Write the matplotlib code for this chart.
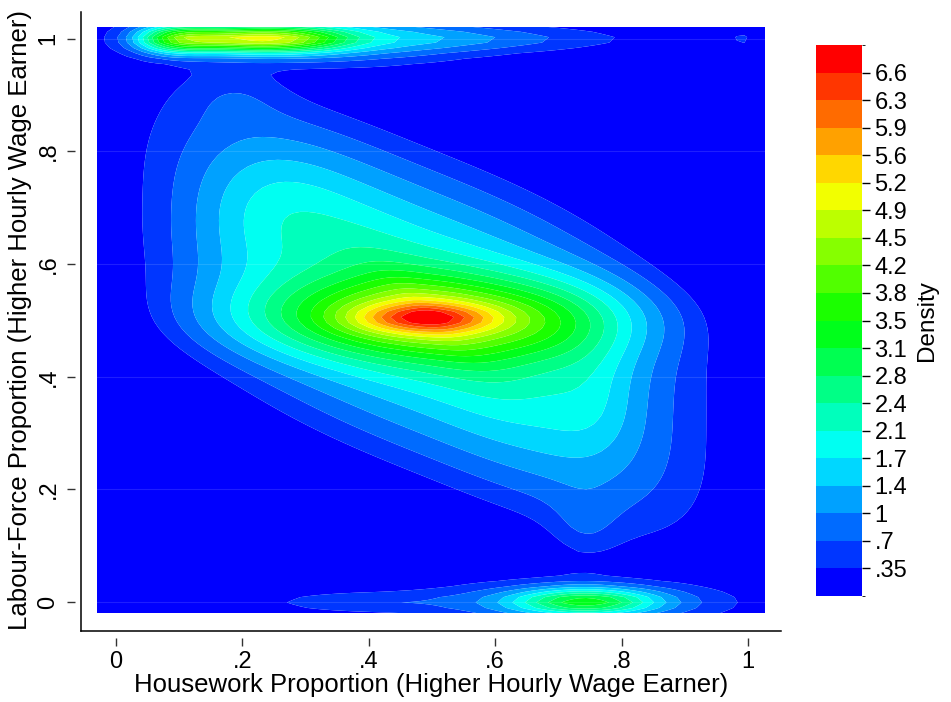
import numpy as np
import matplotlib
matplotlib.use("Agg")
import matplotlib.pyplot as plt
from matplotlib.colors import ListedColormap, BoundaryNorm, hsv_to_rgb
from matplotlib.lines import Line2D

plt.rcParams['font.family'] = ['Liberation Sans', 'DejaVu Sans']

# --- density surface, described by bumps ---
# cone-shaped body of the main cloud (centre, half-widths, shear, peak)
cone_x = [0.49]
cone_y = [0.515]
cone_rx = [0.50]
cone_ry = [0.33]
cone_shear = [0.45]
cone_peak = [3.1]

# gaussian bumps: ridge + spike at (.5,.5), side lobes, necks,
# then the band at y=1 and the band at y=0
g_x    = [0.49, 0.49, 0.23, 0.76, 0.70, 0.74, 0.19,
          0.09, 0.16, 0.27, 0.33, 0.58, 0.99,
          0.745, 0.73, 0.38]
g_y    = [0.505, 0.504, 0.68, 0.36, 0.48, 0.12, 0.91,
          1.00, 1.00, 1.00, 1.00, 1.00, 1.00,
          0.00, 0.00, 0.00]
g_sx   = [0.20, 0.075, 0.08, 0.05, 0.08, 0.04, 0.06,
          0.045, 0.07, 0.07, 0.16, 0.17, 0.012,
          0.075, 0.15, 0.11]
g_sy   = [0.05, 0.018, 0.08, 0.07, 0.06, 0.05, 0.04,
          0.02, 0.016, 0.016, 0.03, 0.016, 0.009,
          0.016, 0.025, 0.014]
g_peak = [2.3, 1.8, 0.45, 0.4, 0.45, 0.4, 0.3,
          2.0, 2.6, 2.6, 1.5, 0.7, 0.45,
          2.0, 1.4, 0.55]

# contour levels and colour bar labels
n_bands = 20
dens_max = 6.95
cbar_labels = ['.35', '.7', '1', '1.4', '1.7', '2.1', '2.4', '2.8', '3.1', '3.5',
               '3.8', '4.2', '4.5', '4.9', '5.2', '5.6', '5.9', '6.3', '6.6']
tick_vals = [0, 0.2, 0.4, 0.6, 0.8, 1]
tick_labels = ['0', '.2', '.4', '.6', '.8', '1']

# --- evaluate on a grid ---
gx = np.linspace(-0.03, 1.03, 90)
gy = np.linspace(-0.02, 1.022, 110)
X, Y = np.meshgrid(gx, gy)
Z = np.zeros_like(X)
for cx, cy, rx, ry, sh, pk in zip(cone_x, cone_y, cone_rx, cone_ry, cone_shear, cone_peak):
    u = (X - cx) / rx
    v = ((Y - cy) + sh * (X - cx)) / ry
    r = (np.abs(u) ** 3 + np.abs(v) ** 3) ** (1 / 3)
    Z += pk * np.clip(1 - r, 0, None)
for cx, cy, sx, sy, pk in zip(g_x, g_y, g_sx, g_sy, g_peak):
    Z += pk * np.exp(-0.5 * (((X - cx) / sx) ** 2 + ((Y - cy) / sy) ** 2))

levels = np.linspace(0, dens_max, n_bands + 1)
levels[-1] = max(dens_max, Z.max() + 0.01)
hues = np.linspace(240, 0, n_bands) / 360.0
colors = hsv_to_rgb(np.column_stack([hues, np.ones(n_bands), np.ones(n_bands)]))
cmap = ListedColormap(colors)
norm = BoundaryNorm(levels, n_bands)

# --- figure ---
fig = plt.figure(figsize=(9.51, 7.02), dpi=100)
W, H = 951, 702
ax = fig.add_axes([97 / W, 1 - 613 / H, 668 / W, 586 / H])
cs = ax.contourf(X, Y, Z, levels=levels, cmap=cmap, norm=norm, antialiased=True)
ax.set_xlim(-0.03, 1.027)
ax.set_ylim(-0.0195, 1.021)

for t in tick_vals:
    ax.axhline(t, color='white', lw=0.8, alpha=0.12, zorder=3)

for side in ['top', 'right']:
    ax.spines[side].set_visible(False)
ax.spines['left'].set_position(('outward', 16))
ax.spines['bottom'].set_position(('outward', 18))
ax.spines['left'].set_color('none')
ax.spines['bottom'].set_color('none')
fig.add_artist(Line2D([81 / W, 81 / W], [1 - 12 / H, 1 - 631 / H], color='black', lw=1.1))
fig.add_artist(Line2D([81 / W, 781 / W], [1 - 631 / H, 1 - 631 / H], color='black', lw=1.1))

ax.set_xticks(tick_vals)
ax.set_xticklabels(tick_labels)
ax.set_yticks(tick_vals)
ax.set_yticklabels(tick_labels, rotation=90, va='center')
ax.tick_params(axis='both', direction='out', length=6, width=1, labelsize=17, color='#333333')
ax.tick_params(axis='x', pad=3.5)
ax.tick_params(axis='y', pad=5)
ax.set_xlabel('Housework Proportion (Higher Hourly Wage Earner)', fontsize=18.5, labelpad=0)
ax.set_ylabel('Labour-Force Proportion (Higher Hourly Wage Earner)', fontsize=18.5, labelpad=4)

cax = fig.add_axes([816 / W, 1 - 596 / H, 46 / W, 551 / H])
cb = fig.colorbar(cs, cax=cax, ticks=levels[1:n_bands])
cb.ax.set_yticklabels(cbar_labels)
cb.ax.tick_params(length=6, width=1, labelsize=17, pad=3)
cb.outline.set_visible(False)
cb.set_label('Density', fontsize=17.5, labelpad=6)

fig.savefig('out.png', dpi=100)
